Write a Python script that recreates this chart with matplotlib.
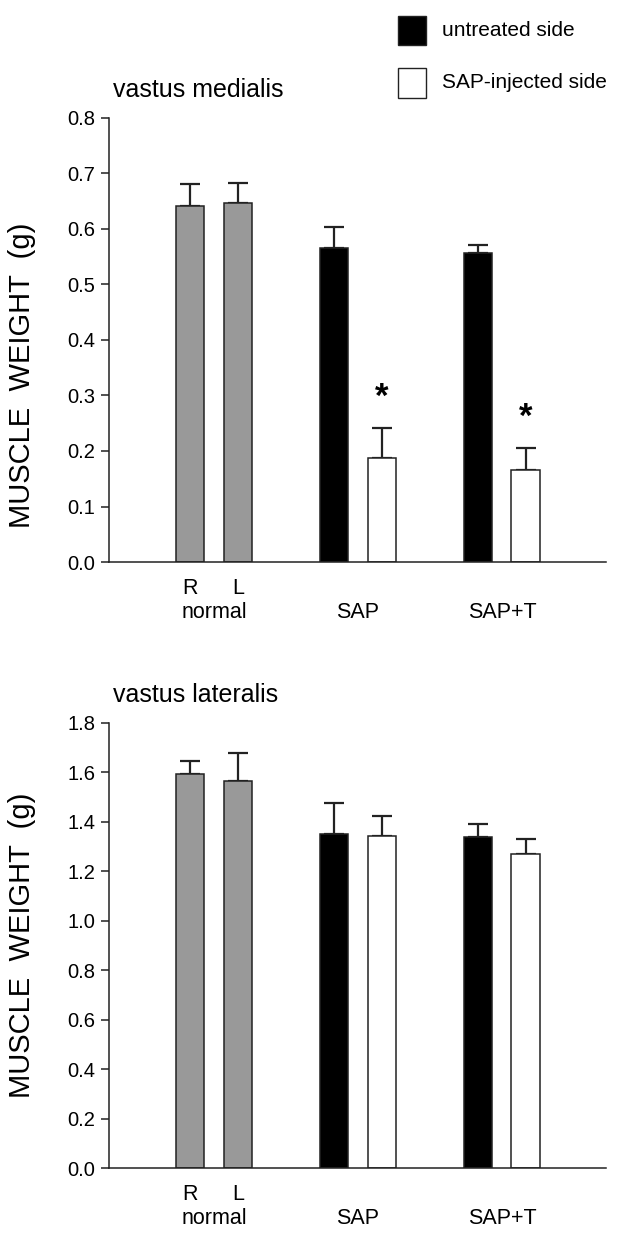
import matplotlib
matplotlib.use('Agg')
import matplotlib.pyplot as plt
import numpy as np
from matplotlib.patches import Rectangle

plt.rcParams['font.family'] = ['Liberation Sans', 'DejaVu Sans']

# bar layout: R, L (normal), untreated/injected (SAP), untreated/injected (SAP+T)
x_pos = [0, 1, 3, 4, 6, 7]
bar_colors = ['#999999', '#999999', 'black', 'white', 'black', 'white']
side_labels = ['R', 'L']
group_labels = ['normal', 'SAP', 'SAP+T']
group_pos = [0.5, 3.5, 6.5]

medialis_mean = [0.642, 0.647, 0.566, 0.187, 0.556, 0.166]
medialis_err = [0.039, 0.036, 0.038, 0.055, 0.016, 0.040]
medialis_star = [3, 5]

lateralis_mean = [1.595, 1.566, 1.352, 1.342, 1.340, 1.270]
lateralis_err = [0.051, 0.112, 0.123, 0.081, 0.050, 0.060]
lateralis_star = []

W, H = 620, 1248


def plot_panel(ax, mean, err, yticks, title, stars, label_y=0.5):
    n = len(mean)
    ax.errorbar(x_pos, mean, yerr=[np.zeros(n), err], fmt='none',
                ecolor='#222222', elinewidth=1.6, capsize=7, capthick=1.6, zorder=1)
    ax.bar(x_pos, mean, width=0.6, color=bar_colors, edgecolor='#222222',
           linewidth=1.1, zorder=2)
    for i in stars:
        ax.annotate('*', xy=(x_pos[i], mean[i] + err[i]), xytext=(0, 30),
                    textcoords='offset pixels', ha='center', va='center',
                    fontsize=25, fontweight='bold')

    ax.set_xlim(-1.69, 8.67)
    ax.set_ylim(yticks[0], yticks[-1])
    ax.set_yticks(yticks)
    ax.set_yticklabels(['{:.1f}'.format(t) for t in yticks], fontsize=14.5)
    ax.tick_params(axis='y', direction='out', length=6, width=1.1, pad=4,
                   color='#222222')
    ax.set_xticks([])
    for s in ['top', 'right']:
        ax.spines[s].set_visible(False)
    for s in ['left', 'bottom']:
        ax.spines[s].set_linewidth(1.1)
        ax.spines[s].set_color('#222222')

    for x, lab in zip(x_pos[:2], side_labels):
        ax.annotate(lab, xy=(x, 0), xycoords=('data', 'axes fraction'),
                    xytext=(0, -27), textcoords='offset pixels',
                    ha='center', va='center', fontsize=15.5)
    for x, lab in zip(group_pos, group_labels):
        ax.annotate(lab, xy=(x, 0), xycoords=('data', 'axes fraction'),
                    xytext=(0, -50), textcoords='offset pixels',
                    ha='center', va='center', fontsize=15.5)

    ax.annotate(title, xy=(0, 1), xycoords='axes fraction', xytext=(4, 28),
                textcoords='offset pixels', ha='left', va='center', fontsize=18)
    ax.set_ylabel('MUSCLE  WEIGHT  (g)', fontsize=21)
    ax.yaxis.set_label_coords(-0.146, label_y)


fig = plt.figure(figsize=(W / 100, H / 100), dpi=100)
ax1 = fig.add_axes([109 / W, (H - 562) / H, 497 / W, 444 / H])
ax2 = fig.add_axes([109 / W, (H - 1168) / H, 497 / W, 445 / H])

plot_panel(ax1, medialis_mean, medialis_err, np.round(np.arange(0, 0.81, 0.1), 1),
           'vastus medialis', medialis_star, label_y=0.42)
plot_panel(ax2, lateralis_mean, lateralis_err, np.round(np.arange(0, 1.81, 0.2), 1),
           'vastus lateralis', lateralis_star, label_y=0.5)

# legend
fig.add_artist(Rectangle((398 / W, 1 - 45 / H), 28 / W, 29 / H, transform=fig.transFigure,
                         facecolor='black', edgecolor='#222222', linewidth=1.0))
fig.add_artist(Rectangle((398 / W, 1 - 98 / H), 28 / W, 30 / H, transform=fig.transFigure,
                         facecolor='white', edgecolor='#222222', linewidth=1.0))
fig.text(442 / W, 1 - 31 / H, 'untreated side', va='center', ha='left', fontsize=15)
fig.text(442 / W, 1 - 83 / H, 'SAP-injected side', va='center', ha='left', fontsize=15)

fig.savefig('out.png', dpi=100)
